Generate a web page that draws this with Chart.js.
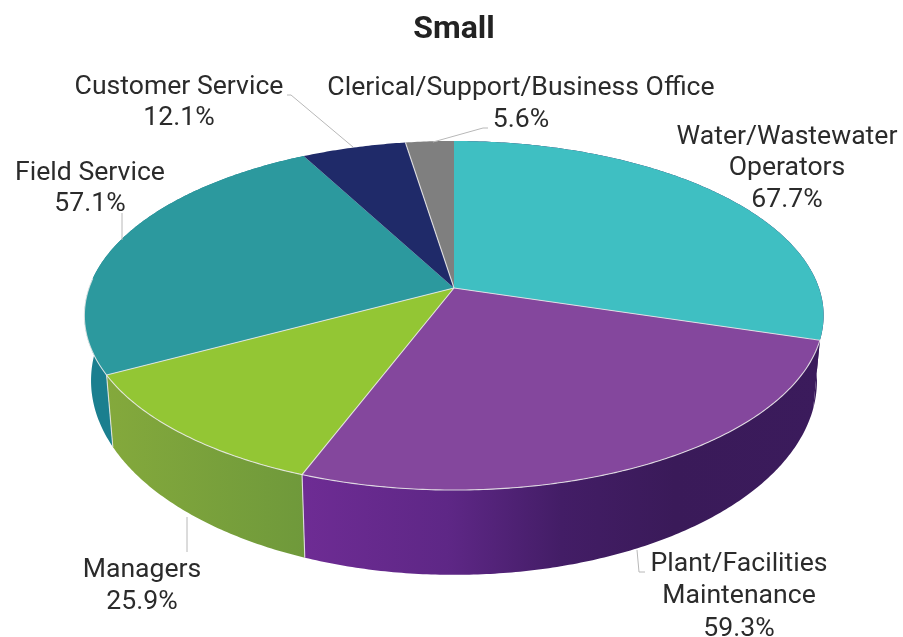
<!DOCTYPE html>
<html>
<head>
<meta charset="utf-8">
<style>
html,body{margin:0;padding:0;background:#fff;}
canvas{display:block;}
</style>
<script src="https://cdn.jsdelivr.net/npm/chart.js@4"></script>
</head>
<body>
<canvas id="c" width="903" height="637"></canvas>
<script>
const chartTitle = "Small";
const categories = ["Water/Wastewater Operators","Plant/Facilities Maintenance","Managers","Field Service","Customer Service","Clerical/Support/Business Office"];
const values = [67.7,59.3,25.9,57.1,12.1,5.6];
const labelLines = [["Water/Wastewater","Operators"],["Plant/Facilities","Maintenance"],["Managers"],["Field Service"],["Customer Service"],["Clerical/Support/Business Office"]];
const topColors = ["#3fbfc2","#84479d","#93c634","#2c999e","#1f2a69","#7f7f7f"];

// label anchor: centre x, first-line centre y, line height
const labelPos = [[787,137,31.5],[739,564,32.5],[142,570,32],[90,173,31],[179,87,31],[521,88,32]];
const leaders = [null,[[637,550],[639,572],[645,572]],[[187,517],[187,552]],[[122,213],[122,240]],[[287,95],[291,95],[353,147]],[[488,128],[483,128],[433,142]]];

// perspective of the disc
const P = {cx:454, cy:288, a:365, b:170.2, k:0.1576, lowCy:350, lowY:1.113, lowX:0.982};
function upperPt(t){const u=Math.cos(t),v=Math.sin(t),w=1-P.k*v;return [P.cx+P.a*u/w,P.cy+P.b*v/w];}
function lowerPt(t){const u=Math.cos(t),v=Math.sin(t),w=1-P.k*v;return [P.cx+P.lowX*P.a*u/w,P.lowCy+P.lowY*P.b*v/w];}
function rim(ctx,f,s,e,move){const n=Math.max(4,Math.ceil(Math.abs(e-s)/0.01));for(let i=0;i<=n;i++){const p=f(s+(e-s)*i/n);if(i===0&&move)ctx.moveTo(p[0],p[1]);else ctx.lineTo(p[0],p[1]);}}
function wallFill(ctx,i){
  if(i===1){const g=ctx.createLinearGradient(303,0,820,0);g.addColorStop(0,"#6e2c94");g.addColorStop(0.28,"#5e2786");g.addColorStop(0.5,"#431d66");g.addColorStop(0.72,"#3a1a59");g.addColorStop(1,"#3b1b5c");return g;}
  if(i===2){const g=ctx.createLinearGradient(106,0,305,0);g.addColorStop(0,"#84a93c");g.addColorStop(1,"#6f993b");return g;}
  if(i===3)return "#1b7f8f";
  if(i===0)return "#3b1b5c";
  if(i===4)return "#161d4d";
  return "#5f5f5f";
}
const pie3d = {
  id:"pie3d",
  beforeDatasetDraw(chart,args){
    const ctx=chart.ctx, arcs=args.meta.data;
    ctx.save();
    // side wall
    [3,2,1,0].forEach(i=>{
      const el=arcs[i];
      const s=el.startAngle,e=el.endAngle;
      ctx.beginPath();rim(ctx,upperPt,s,e,true);rim(ctx,lowerPt,e,s,false);ctx.closePath();
      ctx.fillStyle=wallFill(ctx,i);ctx.fill();
    });
    // top face
    arcs.forEach((el,i)=>{
      ctx.beginPath();ctx.moveTo(P.cx,P.cy);rim(ctx,upperPt,el.startAngle,el.endAngle,false);ctx.closePath();
      ctx.fillStyle=el.options.backgroundColor;ctx.fill();
    });
    // slice dividers
    ctx.strokeStyle="rgba(235,235,235,0.85)";ctx.lineWidth=1.1;
    arcs.forEach((el,i)=>{
      if(i===0||i===4)return;
      const p=upperPt(el.startAngle);
      ctx.beginPath();ctx.moveTo(P.cx,P.cy);ctx.lineTo(p[0],p[1]);ctx.stroke();
    });
    // front rim and wall joints
    const rimStart=arcs[1].startAngle, rimEnd=arcs[3].startAngle+0.55;
    ctx.beginPath();rim(ctx,upperPt,rimStart,rimEnd,true);ctx.stroke();
    [arcs[2].startAngle,arcs[3].startAngle].forEach(t=>{
      const a=upperPt(t),b=lowerPt(t);ctx.beginPath();ctx.moveTo(a[0],a[1]);ctx.lineTo(b[0],b[1]);ctx.stroke();
    });
    ctx.restore();
    return false;
  },
  afterDatasetsDraw(chart){
    const ctx=chart.ctx;
    ctx.save();
    ctx.strokeStyle="#b8b8b8";ctx.lineWidth=1;
    leaders.forEach(pts=>{
      if(!pts)return;
      ctx.beginPath();pts.forEach((p,j)=>j?ctx.lineTo(p[0],p[1]):ctx.moveTo(p[0],p[1]));ctx.stroke();
    });
    ctx.fillStyle="#2b2b2b";ctx.font='400 26.6px Roboto';ctx.textAlign="center";ctx.textBaseline="middle";
    labelLines.forEach((lines,i)=>{
      const [x,y,h]=labelPos[i];
      const all=lines.concat([values[i].toFixed(1)+"%"]);
      all.forEach((t,j)=>ctx.fillText(t,x,y+j*h));
    });
    ctx.restore();
  }
};
new Chart(document.getElementById("c"),{
  type:"pie",
  data:{labels:categories,datasets:[{data:values,backgroundColor:topColors,borderWidth:0}]},
  plugins:[pie3d],
  options:{
    responsive:false,animation:false,devicePixelRatio:1,
    layout:{padding:{left:5}},
    plugins:{
      legend:{display:false},tooltip:{enabled:false},
      title:{display:true,text:chartTitle,color:"#222222",font:{family:"Roboto",size:32,weight:"bold"},padding:{top:11,bottom:0}}
    }
  }
});
</script>
</body>
</html>
